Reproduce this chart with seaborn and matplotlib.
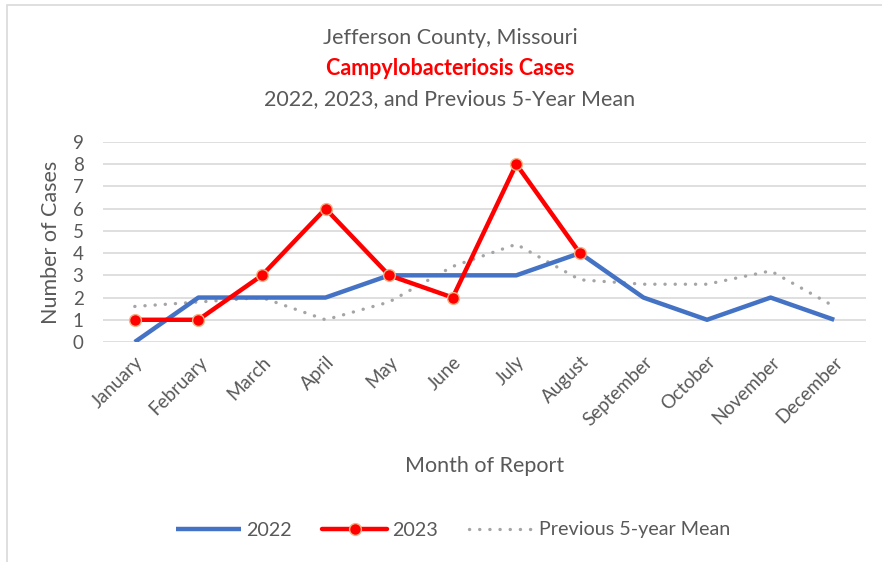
import matplotlib
matplotlib.use("Agg")
import matplotlib.pyplot as plt
import seaborn as sns
import pandas as pd
from matplotlib.patches import Rectangle

months = ["January", "February", "March", "April", "May", "June", "July",
          "August", "September", "October", "November", "December"]
cases_2022 = [0, 2, 2, 2, 3, 3, 3, 4, 2, 1, 2, 1]
cases_2023 = [1, 1, 3, 6, 3, 2, 8, 4]
prev_5yr_mean = [1.6, 1.8, 2.0, 1.0, 1.8, 3.4, 4.4, 2.8, 2.6, 2.6, 3.2, 1.6]
y_ticks = list(range(0, 10))

sns.set_theme(style="white")
plt.rcParams["font.family"] = ["Lato", "DejaVu Sans"]

TXT = "#595959"
BLUE = "#4472C4"
RED = "#FF0000"
GRAY = "#A5A5A5"

W, H = 882, 562
fig = plt.figure(figsize=(W / 100, H / 100), dpi=100)
ax = fig.add_axes([103 / W, 1 - 342 / H, (866 - 103) / W, (342 - 142) / H])

df22 = pd.DataFrame({"month": months, "cases": cases_2022})
df23 = pd.DataFrame({"month": months[:len(cases_2023)], "cases": cases_2023})
dfm = pd.DataFrame({"month": months, "cases": prev_5yr_mean})

sns.lineplot(data=df22, x="month", y="cases", ax=ax, color=BLUE, lw=3.2,
             sort=False, label="2022", solid_capstyle="butt")
sns.lineplot(data=df23, x="month", y="cases", ax=ax, color=RED, lw=3.2,
             sort=False, label="2023", marker="o", markersize=8.5,
             markerfacecolor=RED, markeredgecolor="#F4B183",
             markeredgewidth=1.0)
sns.lineplot(data=dfm, x="month", y="cases", ax=ax, color=GRAY, lw=2.4,
             sort=False, label="Previous 5-year Mean")
mean_line = ax.lines[2]
mean_line.set_linestyle((0, (0.05, 3.0)))
mean_line.set_dash_capstyle("round")
# draw the 5-year mean behind the yearly series
mean_line.set_zorder(1)

ax.set_xlim(-0.5, len(months) - 0.5)
ax.set_ylim(0, 9)
ax.set_yticks(y_ticks)
ax.yaxis.grid(True, color="#D9D9D9", lw=1.2)
ax.set_axisbelow(True)
for s in ax.spines.values():
    s.set_visible(False)
ax.tick_params(axis="both", length=0, colors=TXT)
ax.tick_params(axis="y", labelsize=13.5, pad=14)
ax.tick_params(axis="x", labelsize=13.5, pad=8)
plt.setp(ax.get_xticklabels(), rotation=45, ha="right", rotation_mode="anchor")

ax.set_xlabel("Month of Report", fontsize=15.5, color=TXT, labelpad=20)
ax.set_ylabel("Number of Cases", fontsize=15.5, color=TXT, labelpad=8)

tx = 450 / W
fig.text(tx, 1 - 38 / H, "Jefferson County, Missouri", ha="center",
         va="center", fontsize=15.5, color=TXT)
fig.text(tx, 1 - 68 / H, "Campylobacteriosis Cases", ha="center",
         va="center", fontsize=15.5, color=RED, fontweight="bold")
fig.text(tx, 1 - 99 / H, "2022, 2023, and Previous 5-Year Mean", ha="center",
         va="center", fontsize=15.5, color=TXT)

ax.get_legend().remove()
handles, labels = ax.get_legend_handles_labels()
leg = fig.legend(handles, labels, loc="center", ncol=3,
                 bbox_to_anchor=(453 / W, 1 - 530 / H), frameon=False,
                 fontsize=14.2, handlelength=3.3, columnspacing=1.55,
                 handletextpad=0.25)
for t in leg.get_texts():
    t.set_color(TXT)

fig.patches.append(Rectangle((7 / W, -0.1), 1.2, 1 - 5 / H + 0.1,
                             transform=fig.transFigure, fill=False,
                             edgecolor="#D9D9D9", lw=1.2))

fig.savefig("out.png", dpi=100, facecolor="white")
